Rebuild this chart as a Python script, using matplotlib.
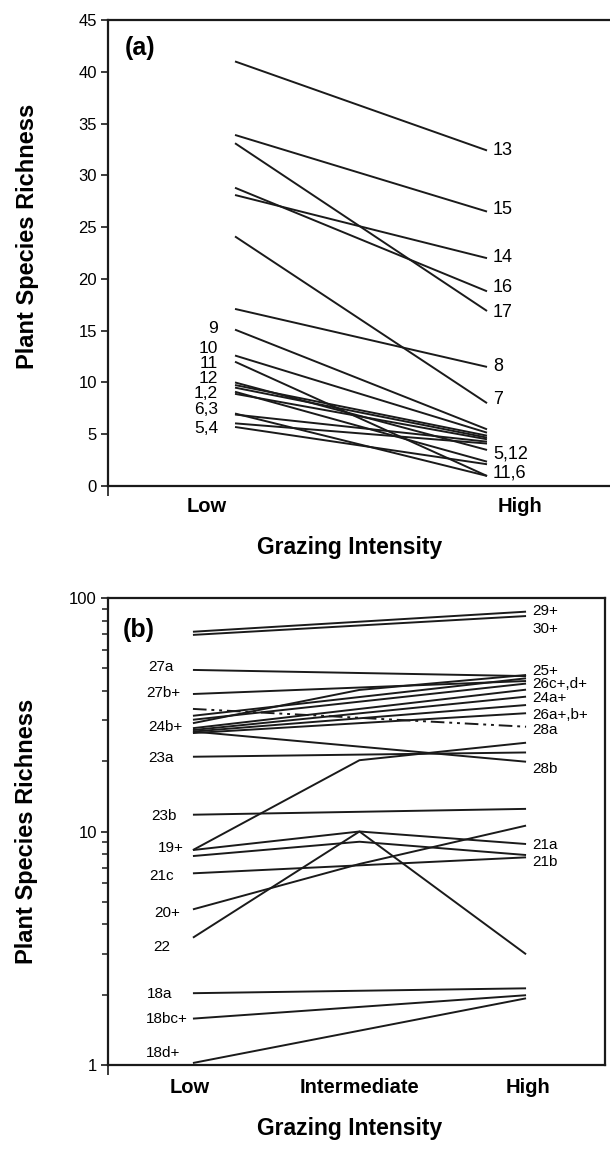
import numpy as np
import matplotlib.pyplot as plt
from matplotlib.ticker import LogLocator, NullFormatter, FixedLocator

plt.rcParams['font.family'] = ['Liberation Sans', 'DejaVu Sans']

LINE_COLOR = '#1a1a1a'

# ---- panel (a): species richness at low vs high grazing ----
a_low = [41.0, 33.9, 33.1, 28.8, 28.1, 24.1, 17.1,
         15.1, 12.6, 12.0, 10.0, 9.75, 9.5, 9.1, 8.9, 7.0, 6.9, 6.05, 5.7]
a_high = [32.4, 26.5, 16.9, 18.8, 22.0, 8.0, 11.5,
          5.47, 5.15, 0.97, 3.48, 4.86, 4.67, 2.35, 4.51, 0.97, 4.28, 4.1, 2.1]

a_left_labels = ['9', '10', '11', '12', '1,2', '6,3', '5,4']
a_left_label_y = [15.2, 13.3, 11.8, 10.4, 8.95, 7.4, 5.57]
a_right_labels = ['13', '15', '14', '16', '17', '8', '7', '5,12', '11,6']
a_right_label_y = [32.4, 26.7, 22.1, 19.2, 16.8, 11.5, 8.37, 3.09, 1.23]

# ---- panel (b): low / intermediate / high grazing (nan = not sampled) ----
nan = np.nan
b_low = [71.7, 69.5, 49.2, 38.8, 29.1, 31.3, 30.1, 27.7, 27.2, 26.8, 26.4,
         33.5, 26.8, 20.9, 8.33, 11.8, 8.33, 7.85, 6.62, 4.64, 3.51,
         2.03, 1.58, 1.02]
b_mid = [nan, nan, nan, nan, 40.4, nan, nan, nan, nan, nan, nan,
         nan, nan, nan, 20.2, nan, 10.0, 9.04, nan, 7.26, 10.0,
         nan, nan, nan]
b_high = [87.4, 83.7, 46.3, 44.1, 46.8, 45.3, 43.0, 40.5, 37.8, 34.8, 32.1,
          28.1, 19.9, 21.8, 24.0, 12.5, 8.84, 7.93, 7.75, 10.6, 2.98,
          2.13, 1.99, 1.93]
b_dashdot = [False] * 11 + [True] + [False] * 12

b_left_labels = ['27a', '27b+', '24b+', '23a', '23b', '19+', '21c', '20+',
                 '22', '18a', '18bc+', '18d+']
b_left_label_y = [50.5, 39.1, 28.1, 20.6, 11.7, 8.52, 6.45, 4.49, 3.21,
                  2.01, 1.58, 1.13]
b_right_labels = ['29+', '30+', '25+', '26c+,d+', '24a+', '26a+,b+', '28a',
                  '28b', '21a', '21b']
b_right_label_y = [88.3, 73.5, 48.7, 42.8, 37.2, 31.5, 27.2, 18.5, 8.75, 7.42]

fig = plt.figure(figsize=(6.10, 11.49), dpi=100)
ax_a = fig.add_axes([108 / 610, 1 - 486 / 1149, 502 / 610, 466 / 1149])
ax_b = fig.add_axes([108 / 610, 1 - 1065 / 1149, 497 / 610, 467 / 1149])

for ax in (ax_a, ax_b):
    for side in ax.spines.values():
        side.set_linewidth(1.6)
        side.set_color(LINE_COLOR)
    ax.tick_params(axis='y', which='major', direction='out', length=5,
                   width=1.2, labelsize=12, pad=3, color=LINE_COLOR)
    ax.tick_params(axis='x', which='major', length=0, labelbottom=False)
    ax.tick_params(axis='x', which='minor', direction='out', length=7,
                   width=1.2, color=LINE_COLOR)

# panel (a)
for lo, hi in zip(a_low, a_high):
    ax_a.plot([0, 1], [lo, hi], color=LINE_COLOR, lw=1.4,
              solid_capstyle='butt')
ax_a.set_xlim(-0.504, 1.488)
ax_a.set_ylim(0, 45)
ax_a.set_yticks(np.arange(0, 46, 5))
ax_a.xaxis.set_minor_locator(FixedLocator([-0.504]))
ax_a.spines['right'].set_visible(False)

for txt, y in zip(a_left_labels, a_left_label_y):
    ax_a.text(-0.067, y, txt, ha='right', va='center', fontsize=12.5)
for txt, y in zip(a_right_labels, a_right_label_y):
    ax_a.text(1.024, y, txt, ha='left', va='center', fontsize=13)

xt = ax_a.get_xaxis_transform()
ax_a.text(-0.111, -0.045, 'Low', transform=xt, ha='center', va='center',
          fontsize=14.5, fontweight='bold')
ax_a.text(1.131, -0.045, 'High', transform=xt, ha='center', va='center',
          fontsize=14.5, fontweight='bold')
ax_a.text(0.482, -0.133, 'Grazing Intensity', transform=ax_a.transAxes,
          ha='center', va='center', fontsize=16.5, fontweight='bold')
ax_a.text(-0.161, 0.535, 'Plant Species Richness', transform=ax_a.transAxes,
          ha='center', va='center', rotation=90, fontsize=17,
          fontweight='bold')
ax_a.text(0.034, 0.94, '(a)', transform=ax_a.transAxes, ha='left',
          va='center', fontsize=18, fontweight='bold')

# panel (b)
xs = np.array([0, 1, 2])
for lo, mid, hi, dd in zip(b_low, b_mid, b_high, b_dashdot):
    ys = np.array([lo, mid, hi])
    ok = ~np.isnan(ys)
    if dd:
        ax_b.plot(xs[ok], ys[ok], color=LINE_COLOR, lw=1.4,
                  dashes=(7, 2.5, 1.5, 2.5, 1.5, 2.5))
    else:
        ax_b.plot(xs[ok], ys[ok], color=LINE_COLOR, lw=1.4,
                  solid_capstyle='butt')
ax_b.set_yscale('log')
ax_b.set_ylim(1, 100)
ax_b.set_xlim(-0.51, 2.474)
ax_b.set_yticks([1, 10, 100])
ax_b.set_yticklabels(['1', '10', '100'])
ax_b.yaxis.set_minor_locator(LogLocator(base=10, subs=np.arange(2, 10)))
ax_b.yaxis.set_minor_formatter(NullFormatter())
ax_b.tick_params(axis='y', which='minor', direction='out', length=4,
                 width=1.1, color=LINE_COLOR)
ax_b.xaxis.set_minor_locator(FixedLocator([-0.51]))

b_left_x = [-0.27, -0.28, -0.27, -0.27, -0.25, -0.21, -0.26, -0.23,
            -0.24, -0.275, -0.28, -0.28]
for txt, y, x in zip(b_left_labels, b_left_label_y, b_left_x):
    ax_b.text(x, y, txt, ha='left', va='center', fontsize=11)
for txt, y in zip(b_right_labels, b_right_label_y):
    ax_b.text(2.04, y, txt, ha='left', va='center', fontsize=11)

xt = ax_b.get_xaxis_transform()
for x, txt in zip([-0.02, 1, 2.01], ['Low', 'Intermediate', 'High']):
    ax_b.text(x, -0.049, txt, transform=xt, ha='center', va='center',
              fontsize=14.5, fontweight='bold')
ax_b.text(0.487, -0.135, 'Grazing Intensity', transform=ax_b.transAxes,
          ha='center', va='center', fontsize=16.5, fontweight='bold')
ax_b.text(-0.163, 0.5, 'Plant Species Richness', transform=ax_b.transAxes,
          ha='center', va='center', rotation=90, fontsize=17,
          fontweight='bold')
ax_b.text(0.03, 0.931, '(b)', transform=ax_b.transAxes, ha='left',
          va='center', fontsize=18, fontweight='bold')

fig.savefig('out.png', dpi=100)
